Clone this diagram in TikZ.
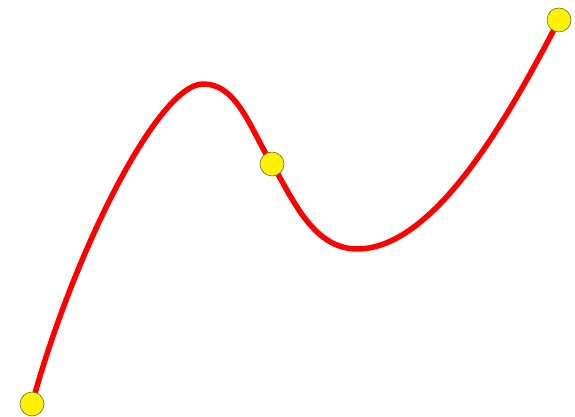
\documentclass[tikz,border=0pt]{standalone}
\begin{document}
\begin{tikzpicture}[x=1pt,y=1pt,
  dot/.style={circle,draw=black!55!yellow!70!black,line width=0.6pt,fill=yellow,minimum size=24pt,inner sep=0pt},
  curve/.style={red,line width=5.5pt}]
\useasboundingbox (0,0) rectangle (575,417);
\coordinate (pk) at (203,333);
\coordinate (tr) at (357,168);
\draw[curve] (32,13) .. controls (73,163) and (158,333) .. (pk)
  .. controls (238,333) and (251,286) .. (272,253)
  .. controls (291,222) and (312,168) .. (tr)
  .. controls (437,168) and (513,309) .. (559,397);
\node[dot] (a) at (32,13) {};
\node[dot] (b) at (272,253) {};
\node[dot] (c) at (559,397) {};
\end{tikzpicture}
\end{document}
